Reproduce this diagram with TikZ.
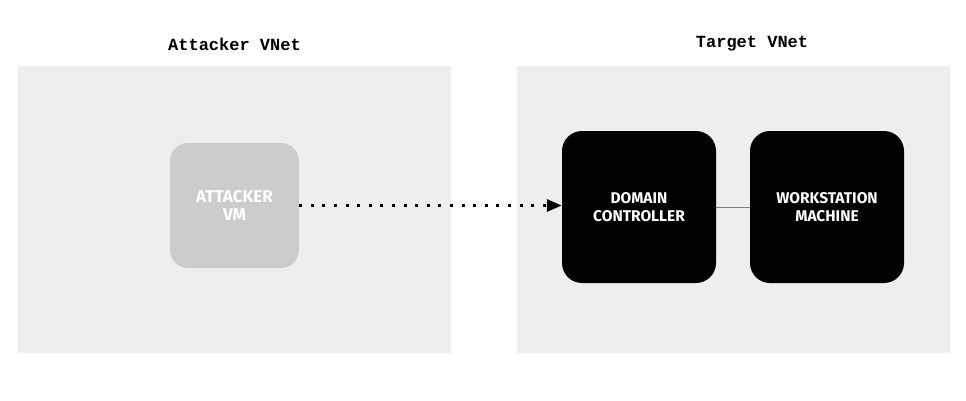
\documentclass[tikz,border=0pt]{standalone}
\usepackage{fontspec}
\setmainfont{Fira Sans}
\setmonofont{Liberation Mono}
\usetikzlibrary{arrows.meta,positioning}
\definecolor{netgray}{HTML}{EEEEEE}
\definecolor{vmgray}{HTML}{CCCCCC}
\begin{document}
\begin{tikzpicture}[x=1pt, y=-1pt,
        net/.style={fill=netgray, draw=none, inner sep=0pt,
                    minimum width=433pt, minimum height=287pt},
        title/.style={font=\ttfamily\bfseries\fontsize{17}{20}\selectfont},
        box/.style={rounded corners=20pt, text=white, align=center,
                    font=\bfseries\fontsize{15.5}{18}\selectfont,
                    minimum width=154pt, minimum height=152pt, inner sep=0pt},
        arr/.style={-{Triangle[length=15pt, width=12pt]}, line width=3pt,
                    dash pattern=on 3pt off 8.6pt}
      ]
        \useasboundingbox (0,0) rectangle (966,400);
        % virtual networks
        \node[net] (attnet) at (234.5,209.5) {};
        \node[net] (tgtnet) at (733.5,209.5) {};
        \node[title] (atttitle) at (234.5,44) {Attacker VNet};
        \node[title] (tgttitle) at (752,44) {Target VNet};
        % machines
        \node[box, fill=vmgray, rounded corners=18pt,
              font=\bfseries\fontsize{17}{18}\selectfont,
              minimum width=129pt, minimum height=125pt] (attvm) at (234.5,205.5) {ATTACKER\\VM};
        \node[box, fill=black] (dc) at (639,207) {DOMAIN\\CONTROLLER};
        \node[box, fill=black] (ws) at (827,207) {WORKSTATION\\MACHINE};
        % connections
        \draw[gray, line width=1pt] (dc) -- (ws);
        \draw[arr] (attvm.east) -- (attvm.east -| dc.west);
      \end{tikzpicture}
\end{document}
